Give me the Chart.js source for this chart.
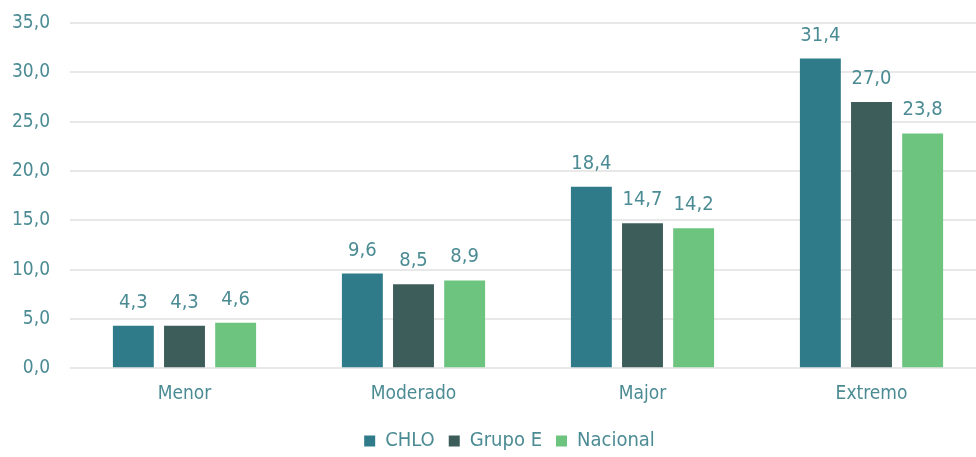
<!DOCTYPE html>
<html>
<head>
<meta charset="utf-8">
<script src="https://cdn.jsdelivr.net/npm/chart.js@4"></script>
<style>
  html, body { margin: 0; padding: 0; background: #fff; overflow: hidden; }
  #wrap { width: 1010px; height: 457px; }
</style>
</head>
<body>
<div id="wrap"><canvas id="chart"></canvas></div>
<script>
var categories = ['Menor', 'Moderado', 'Major', 'Extremo'];
var chlo = [4.3, 9.6, 18.4, 31.4];
var grupoE = [4.3, 8.5, 14.7, 27.0];
var nacional = [4.6, 8.9, 14.2, 23.8];

var textColor = '#4b8b93';
var fontFamily = "'DejaVu Sans Condensed', 'Liberation Sans Narrow', Roboto, sans-serif";

function comma(v) {
  return Number(v).toFixed(1).replace('.', ',');
}

var valueLabels = {
  id: 'valueLabels',
  afterDatasetsDraw: function (chart) {
    var ctx = chart.ctx;
    ctx.save();
    ctx.font = '20px ' + fontFamily;
    ctx.fillStyle = textColor;
    ctx.textAlign = 'center';
    ctx.textBaseline = 'alphabetic';
    chart.data.datasets.forEach(function (ds, i) {
      var meta = chart.getDatasetMeta(i);
      meta.data.forEach(function (bar, j) {
        ctx.fillText(comma(ds.data[j]), bar.x, bar.y - 18);
      });
    });
    ctx.restore();
  }
};

// nudge the legend a bit right and down, like the original
var legendShift = {
  id: 'legendShift',
  beforeDraw: function (chart) {
    if (chart.legend && !chart.legend._shifted) {
      chart.legend.left += 12;
      chart.legend.right += 12;
      chart.legend.top += 6;
      chart.legend.bottom += 6;
      chart.legend._shifted = true;
    }
  }
};

var chart = new Chart(document.querySelector('#chart'), {
  type: 'bar',
  data: {
    labels: categories,
    datasets: [
      { label: 'CHLO', data: chlo, backgroundColor: '#2f7b8a' },
      { label: 'Grupo E', data: grupoE, backgroundColor: '#3c5d5a' },
      { label: 'Nacional', data: nacional, backgroundColor: '#6cc47f' }
    ]
  },
  options: {
    responsive: true,
    maintainAspectRatio: false,
    animation: false,
    layout: { padding: { top: 23, right: 24, left: 9, bottom: 2 } },
    datasets: {
      bar: { categoryPercentage: 0.67, barPercentage: 0.8 }
    },
    plugins: {
      legend: {
        position: 'bottom',
        labels: {
          boxWidth: 11,
          boxHeight: 11,
          padding: 14,
          color: textColor,
          font: { size: 20, family: fontFamily }
        }
      },
      tooltip: { enabled: false }
    },
    scales: {
      x: {
        grid: { display: false },
        border: { display: false },
        ticks: { color: textColor, font: { size: 19, family: fontFamily }, padding: 6 }
      },
      y: {
        min: 0,
        max: 35,
        grid: { color: '#e8e8e8', lineWidth: 2, drawTicks: false },
        border: { display: false },
        afterFit: function (scale) {
          scale.width = 61;
          scale.paddingTop = 0;
        },
        ticks: {
          stepSize: 5,
          color: textColor,
          padding: 20,
          font: { size: 19, family: fontFamily },
          callback: function (v) { return comma(v); }
        }
      }
    }
  },
  plugins: [valueLabels, legendShift]
});
</script>
</body>
</html>
